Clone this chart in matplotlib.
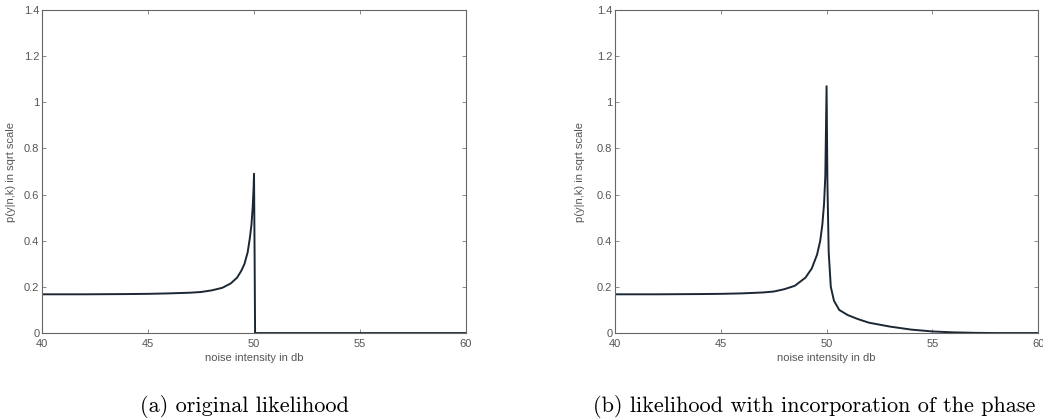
import matplotlib
matplotlib.use('Agg')
import matplotlib.pyplot as plt

# noise intensity (db) and likelihood values
x_orig = [40, 42, 44, 45, 46, 47, 47.5, 48, 48.5, 48.9, 49.2, 49.4, 49.55, 49.7,
          49.8, 49.88, 49.94, 49.98, 50.0, 50.03, 50.05, 55, 60]
y_orig = [0.168, 0.168, 0.169, 0.17, 0.172, 0.175, 0.178, 0.185, 0.196, 0.215,
          0.24, 0.27, 0.30, 0.35, 0.41, 0.47, 0.55, 0.63, 0.69, 0.3, 0.0, 0.0, 0.0]

x_phase = [40, 42, 44, 45, 46, 47, 47.5, 48, 48.5, 49, 49.3, 49.55, 49.7, 49.8,
           49.88, 49.94, 50.0, 50.04, 50.1, 50.2, 50.35, 50.6, 51, 51.5, 52, 53,
           54, 55, 56, 57, 58, 60]
y_phase = [0.168, 0.168, 0.169, 0.17, 0.172, 0.176, 0.18, 0.19, 0.205, 0.24,
           0.28, 0.34, 0.40, 0.47, 0.56, 0.68, 1.07, 0.65, 0.35, 0.2, 0.14, 0.10,
           0.078, 0.06, 0.045, 0.028, 0.015, 0.007, 0.003, 0.001, 0.0, 0.0]

xticks = [40, 45, 50, 55, 60]
yticks = [0, 0.2, 0.4, 0.6, 0.8, 1.0, 1.2, 1.4]
ytick_labels = ['0', '0.2', '0.4', '0.6', '0.8', '1', '1.2', '1.4']
captions = ['(a) original likelihood', '(b) likelihood with incorporation of the phase']

fig = plt.figure(figsize=(10.43, 4.20), dpi=100)
ax1 = fig.add_axes([0.0403, 0.207, 0.4065, 0.769])
ax2 = fig.add_axes([0.5897, 0.207, 0.4056, 0.769])

for ax, xs, ys, ylx in [(ax1, x_orig, y_orig, -0.062), (ax2, x_phase, y_phase, -0.071)]:
    ax.plot(xs, ys, color='#1b2733', lw=1.4)
    ax.set_xlim(40, 60)
    ax.set_ylim(0, 1.4)
    ax.set_xticks(xticks)
    ax.set_xticklabels([str(t) for t in xticks], family='Liberation Sans', size=8, color='#555555')
    ax.set_yticks(yticks)
    ax.set_yticklabels(ytick_labels, family='Liberation Sans', size=8, color='#555555')
    ax.tick_params(direction='in', length=3, width=0.6, color='#777777',
                   top=True, right=True, pad=2)
    ax.tick_params(axis='x', pad=4.5)
    for s in ax.spines.values():
        s.set_color('#666666')
        s.set_linewidth(0.8)
    ax.set_xlabel('noise intensity in db', family='Liberation Sans', size=8,
                  color='#555555', labelpad=3)
    ax.set_ylabel('p(y|n,k) in sqrt scale', family='Liberation Sans', size=8,
                  color='#555555')
    ax.yaxis.set_label_coords(ylx, 0.5)

fig.text(0.234, 0.033, captions[0], ha='center', va='center', family='cmr10', size=16)
fig.text(0.781, 0.033, captions[1], ha='center', va='center', family='cmr10', size=16)

fig.savefig('out.png', dpi=100)
